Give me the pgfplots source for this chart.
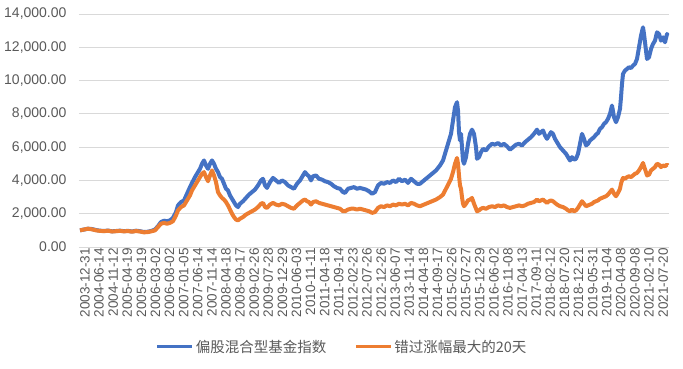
\documentclass[border=0pt]{standalone}
\usepackage{pgfplots}
\pgfplotsset{compat=1.18}
\usepackage{fontspec}
\setmainfont{Liberation Sans}
\newfontfamily\cjk{Noto Sans CJK SC}
\definecolor{sblue}{HTML}{4472C4}
\definecolor{sorange}{HTML}{ED7D31}
\definecolor{gridc}{HTML}{D9D9D9}
\definecolor{txt}{HTML}{595959}
\pgfplotstableread{
x y
80 1000
84 1050
88 1100
92 1080
96 1020
100 980
104 960
108 990
112 940
116 960
120 980
124 950
128 970
132 930
136 980
140 950
144 900
148 920
152 980
155 1050
158 1250
161 1500
164 1580
167 1550
170 1600
173 1750
176 2100
178 2500
181 2700
184 2800
187 3200
190 3600
192 3850
195 4200
198 4500
200 4700
202 5000
204 5200
206 4900
208 4700
210 5000
212 5200
214 5000
216 4700
218 4500
220 4200
222 4100
224 3800
226 3500
228 3400
230 3100
232 2900
234 2700
236 2500
238 2400
240 2600
243 2750
246 2950
249 3150
252 3300
255 3450
258 3700
261 4000
263 4100
265 3700
267 3550
270 3900
273 4150
276 4000
279 3850
282 4000
285 3900
288 3700
291 3600
294 3500
297 3800
300 4000
303 4300
305 4500
307 4350
309 4250
311 4000
313 4250
316 4300
319 4100
322 4050
325 3950
328 3900
331 3800
334 3650
337 3550
340 3500
343 3300
345 3250
348 3500
351 3550
354 3600
357 3500
360 3550
363 3500
366 3450
369 3350
372 3200
375 3300
378 3700
381 3850
384 3800
387 3900
390 3850
393 4000
396 3900
399 4100
402 3950
405 4050
408 3850
411 4100
414 3950
417 3800
420 3800
424 4000
428 4200
432 4400
436 4600
440 4900
443 5200
446 5800
449 6400
451 6800
453 7600
455 8400
457 8700
458 8200
459 6900
460 6400
461 6800
462 6000
463 5200
464 5000
466 5400
468 6200
470 6800
472 7050
474 6800
476 6000
477 5300
479 5400
481 5700
483 5900
486 5800
489 6050
492 6200
495 6150
498 6250
501 6100
504 6200
507 6050
510 5850
513 6000
516 6150
519 6200
522 6100
525 6300
528 6450
531 6600
534 6800
537 7050
539 6800
541 6900
543 7000
545 6700
547 6500
549 6700
551 6900
553 6800
555 6500
557 6300
560 6000
563 5800
566 5600
568 5400
570 5200
572 5400
574 5250
576 5300
578 5600
580 6200
582 6800
584 6500
586 6100
588 6200
590 6400
592 6500
594 6600
596 6750
598 6850
600 7100
602 7200
604 7400
606 7500
608 7700
610 8000
612 8500
614 7800
616 7500
618 7800
620 8300
621 9000
622 9800
623 10400
625 10600
627 10700
629 10800
631 10750
633 10900
635 11000
637 11300
639 12000
641 12700
643 13200
644 12800
646 11800
647 11300
649 11400
651 11900
653 12200
655 12400
657 12900
659 12800
661 12400
663 12600
665 12300
667 12800
668 12700
}\blue
\pgfplotstableread{
x y
80 1000
84 1050
88 1100
92 1060
96 1000
100 970
104 950
108 980
112 930
116 950
120 970
124 940
128 960
132 920
136 960
140 930
144 880
148 900
152 950
155 1000
158 1200
161 1400
164 1450
167 1400
170 1450
173 1550
176 1900
178 2200
181 2400
184 2500
187 2800
190 3100
192 3400
195 3700
198 4000
200 4200
202 4400
204 4500
206 4200
208 3950
210 4300
212 4600
214 4300
216 3900
218 3300
220 3100
222 2950
224 2850
226 2700
228 2500
230 2250
232 2000
234 1800
236 1650
238 1600
240 1700
243 1800
246 1950
249 2050
252 2150
255 2250
258 2400
261 2600
263 2650
265 2400
267 2350
270 2550
273 2650
276 2550
279 2500
282 2600
285 2550
288 2450
291 2350
294 2300
297 2500
300 2650
303 2800
305 2850
307 2750
309 2700
311 2550
313 2700
316 2750
319 2650
322 2600
325 2550
328 2500
331 2450
334 2400
337 2350
340 2300
343 2150
345 2150
348 2250
351 2300
354 2300
357 2250
360 2300
363 2250
366 2200
369 2150
372 2050
375 2100
378 2350
381 2450
384 2400
387 2500
390 2450
393 2550
396 2500
399 2600
402 2550
405 2600
408 2500
411 2650
414 2600
417 2500
420 2450
424 2550
428 2650
432 2750
436 2850
440 3000
443 3150
446 3500
449 3850
451 4100
453 4500
455 5000
457 5350
458 5000
459 4300
460 3700
461 3500
462 3000
463 2600
464 2450
466 2600
468 2800
470 2850
472 2950
474 2600
476 2300
477 2150
479 2200
481 2300
483 2350
486 2300
489 2400
492 2450
495 2400
498 2500
501 2450
504 2500
507 2400
510 2350
513 2400
516 2450
519 2500
522 2450
525 2500
528 2600
531 2650
534 2700
537 2850
539 2750
541 2800
543 2850
545 2750
547 2650
549 2750
551 2800
553 2750
555 2650
557 2550
560 2450
563 2400
566 2300
568 2200
570 2150
572 2250
574 2150
576 2200
578 2350
580 2550
582 2750
584 2600
586 2450
588 2500
590 2550
592 2600
594 2700
596 2750
598 2800
600 2900
602 2950
604 3000
606 3050
608 3150
610 3300
612 3450
614 3200
616 3050
618 3250
620 3500
621 3800
622 4000
623 4150
625 4100
627 4200
629 4250
631 4200
633 4300
635 4400
637 4450
639 4600
641 4800
643 5050
644 4850
646 4500
647 4300
649 4350
651 4600
653 4700
655 4800
657 5000
659 4950
661 4800
663 4900
665 4850
667 4950
668 4900
}\orange
\begin{document}
\begin{tikzpicture}[x=1pt,y=1pt]
\path[use as bounding box] (0,0) rectangle (683,368);
\begin{axis}[
  at={(79pt,121pt)}, anchor=south west,
  width=590pt, height=233pt, scale only axis,
  xmin=79, xmax=669, ymin=0, ymax=14000,
  axis line style={draw=none},
  major tick length=0pt,
  scaled y ticks=false,
  ymajorgrids, grid style={gridc, line width=0.9pt},
  ytick={0,2000,...,14000},
  yticklabel style={font=\fontsize{14}{16}\selectfont, text=txt, xshift=-9pt},
  /pgf/number format/.cd, fixed, fixed zerofill, precision=2, 1000 sep={,}, assume math mode=true,
  /pgfplots/.cd,
  xtick={82,96.1,110.2,124.3,138.4,152.5,166.6,180.7,194.8,208.9,223,237.1,251.2,265.3,279.4,293.5,307.6,321.7,335.8,349.9,364,378.1,392.2,406.3,420.4,434.5,448.6,462.7,476.8,490.9,505,519.1,533.2,547.3,561.4,575.5,589.6,603.7,617.8,631.9,646,660.1},
  xticklabels={2003-12-31,2004-06-14,2004-11-12,2005-04-19,2005-09-19,2006-03-02,2006-08-02,2007-01-05,2007-06-14,2007-11-14,2008-04-18,2008-09-17,2009-02-26,2009-07-28,2009-12-29,2010-06-03,2010-11-11,2011-04-18,2011-09-14,2012-02-23,2012-07-26,2012-12-26,2013-06-07,2013-11-14,2014-04-18,2014-09-17,2015-02-26,2015-07-27,2015-12-29,2016-06-02,2016-11-08,2017-04-13,2017-09-11,2018-02-12,2018-07-20,2018-12-21,2019-05-31,2019-11-04,2020-04-08,2020-09-08,2021-02-10,2021-07-20},
  xticklabel style={font=\fontsize{13.5}{15}\selectfont, text=txt, rotate=90, anchor=east, inner sep=1pt, yshift=-3pt},
  legend style={at={(0.446,-0.429)}, anchor=center, draw=none, fill=none,
    font=\cjk\fontsize{14.5}{16}\selectfont, text=txt, legend columns=2,
    /tikz/every even column/.append style={column sep=26pt}},
  legend image code/.code={\draw[#1, line width=3pt] (0pt,0pt) -- (35pt,0pt);},
]
\addplot[sblue, line width=4pt, line join=round] table[x=x,y=y] {\blue};
\addlegendentry{偏股混合型基金指数}
\addplot[sorange, line width=4pt, line join=round] table[x=x,y=y] {\orange};
\addlegendentry{错过涨幅最大的20天}
\end{axis}
\end{tikzpicture}
\end{document}
